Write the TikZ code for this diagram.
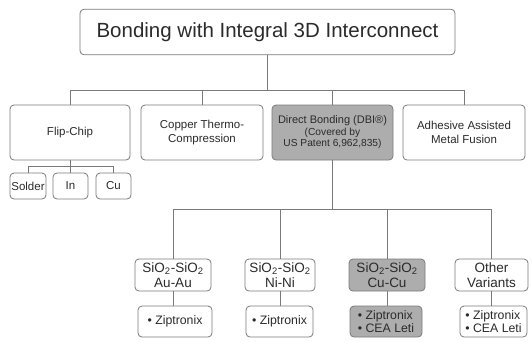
\documentclass[tikz,border=0pt]{standalone}
\usepackage{fontspec}
\setmainfont{Liberation Sans}
\usetikzlibrary{positioning}
\definecolor{ink}{HTML}{2B2B2B}
\definecolor{edge}{HTML}{7A7A7A}
\definecolor{shade}{HTML}{ADADAD}

\begin{document}
\begin{tikzpicture}[
  x=1pt,y=-1pt,
  box/.style={draw=edge,line width=0.8pt,rounded corners=4pt,fill=white,
    text=ink,align=center,inner sep=0.5pt,minimum height=#1},
  box/.default=55pt,
  hot/.style={fill=shade},
  wire/.style={draw=edge,line width=0.8pt}
]
  \useasboundingbox (0,0) rectangle (532,341);

  % root
  \node[box=45.5pt,minimum width=375pt,font=\fontsize{20.5}{22}\selectfont]
    (root) at (267.5,32) {Bonding with Integral 3D Interconnect};

  % second row
  \node[box,minimum width=120pt,font=\fontsize{11.5}{13.5}\selectfont]
    (flip) at (70,132.5) {Flip-Chip};
  \node[box,minimum width=122pt,font=\fontsize{11.5}{13.5}\selectfont]
    (copper) at (202,132.5) {Copper Thermo-\\Compression};
  \node[box,hot,minimum width=121pt,font=\fontsize{11}{11.5}\selectfont]
    (dbi) at (332.5,132.5)
    {Direct Bonding (DBI®)\\{\fontsize{10.2}{11.5}\selectfont (Covered by}\\
     {\fontsize{10.2}{11.5}\selectfont US Patent 6,962,835)}};
  \node[box,minimum width=122pt,font=\fontsize{11.5}{13.5}\selectfont]
    (adhesive) at (464,132.5) {Adhesive Assisted\\Metal Fusion};

  \draw[wire] (root.south) -- (root.south |- 0,90) coordinate (top bus);
  \draw[wire] (flip.north) -- (flip.north |- top bus)
    -- (adhesive.north |- top bus) -- (adhesive.north);
  \draw[wire] (copper.north) -- (copper.north |- top bus);
  \draw[wire] (dbi.north) -- (dbi.north |- top bus);

  % flip-chip variants
  \node[box=26pt,minimum width=36pt,font=\fontsize{11.5}{13}\selectfont]
    (solder) at (28,186) {Solder};
  \node[box=26pt,minimum width=35pt,font=\fontsize{11.5}{13}\selectfont]
    (indium) at (70.5,186) {In};
  \node[box=26pt,minimum width=35pt,font=\fontsize{11.5}{13}\selectfont]
    (copperball) at (113.5,186) {Cu};

  \draw[wire] (flip.south) -- (flip.south |- 0,166) coordinate (flip bus);
  \draw[wire] (solder.north) -- (solder.north |- flip bus)
    -- (copperball.north |- flip bus) -- (copperball.north);
  \draw[wire] (indium.north) -- (indium.north |- flip bus);

  % DBI variants
  \node[box=32pt,minimum width=76pt,font=\fontsize{13.5}{14.5}\selectfont]
    (auau) at (173,275) {SiO\textsubscript{2}-SiO\textsubscript{2}\\Au-Au};
  \node[box=32pt,minimum width=70pt,font=\fontsize{13.5}{14.5}\selectfont]
    (nini) at (280,275) {SiO\textsubscript{2}-SiO\textsubscript{2}\\Ni-Ni};
  \node[box=32pt,hot,minimum width=76pt,font=\fontsize{13.5}{14.5}\selectfont]
    (cucu) at (387,275) {SiO\textsubscript{2}-SiO\textsubscript{2}\\Cu-Cu};
  \node[box=32pt,minimum width=73pt,font=\fontsize{13.5}{14.5}\selectfont]
    (other) at (491.5,275) {Other\\Variants};

  \draw[wire] (dbi.south) -- (dbi.south |- 0,209) coordinate (dbi bus);
  \draw[wire] (auau.north) -- (auau.north |- dbi bus)
    -- (other.north |- dbi bus) -- (other.north);
  \draw[wire] (nini.north) -- (nini.north |- dbi bus);
  \draw[wire] (cucu.north) -- (cucu.north |- dbi bus);

  % who does it
  \node[box=31pt,minimum width=74pt,font=\fontsize{12.3}{13.5}\selectfont]
    (auwho) at (175,321.5) {• Ziptronix};
  \node[box=31pt,minimum width=67pt,font=\fontsize{12.3}{13.5}\selectfont]
    (niwho) at (279.5,321.5) {• Ziptronix};
  \node[box=31pt,hot,minimum width=72pt,font=\fontsize{12.3}{13.5}\selectfont,
    align=left] (cuwho) at (386,321.5) {• Ziptronix\\• CEA Leti};
  \node[box=31pt,minimum width=67pt,font=\fontsize{12.3}{13.5}\selectfont,
    align=left] (otherwho) at (493.5,321.5) {• Ziptronix\\• CEA Leti};

  \draw[wire] (auau.south) -- (auau.south |- auwho.north);
  \draw[wire] (nini.south) -- (nini.south |- niwho.north);
  \draw[wire] (cucu.south) -- (cucu.south |- cuwho.north);
  \draw[wire] (other.south) -- (other.south |- otherwho.north);
\end{tikzpicture}
\end{document}
